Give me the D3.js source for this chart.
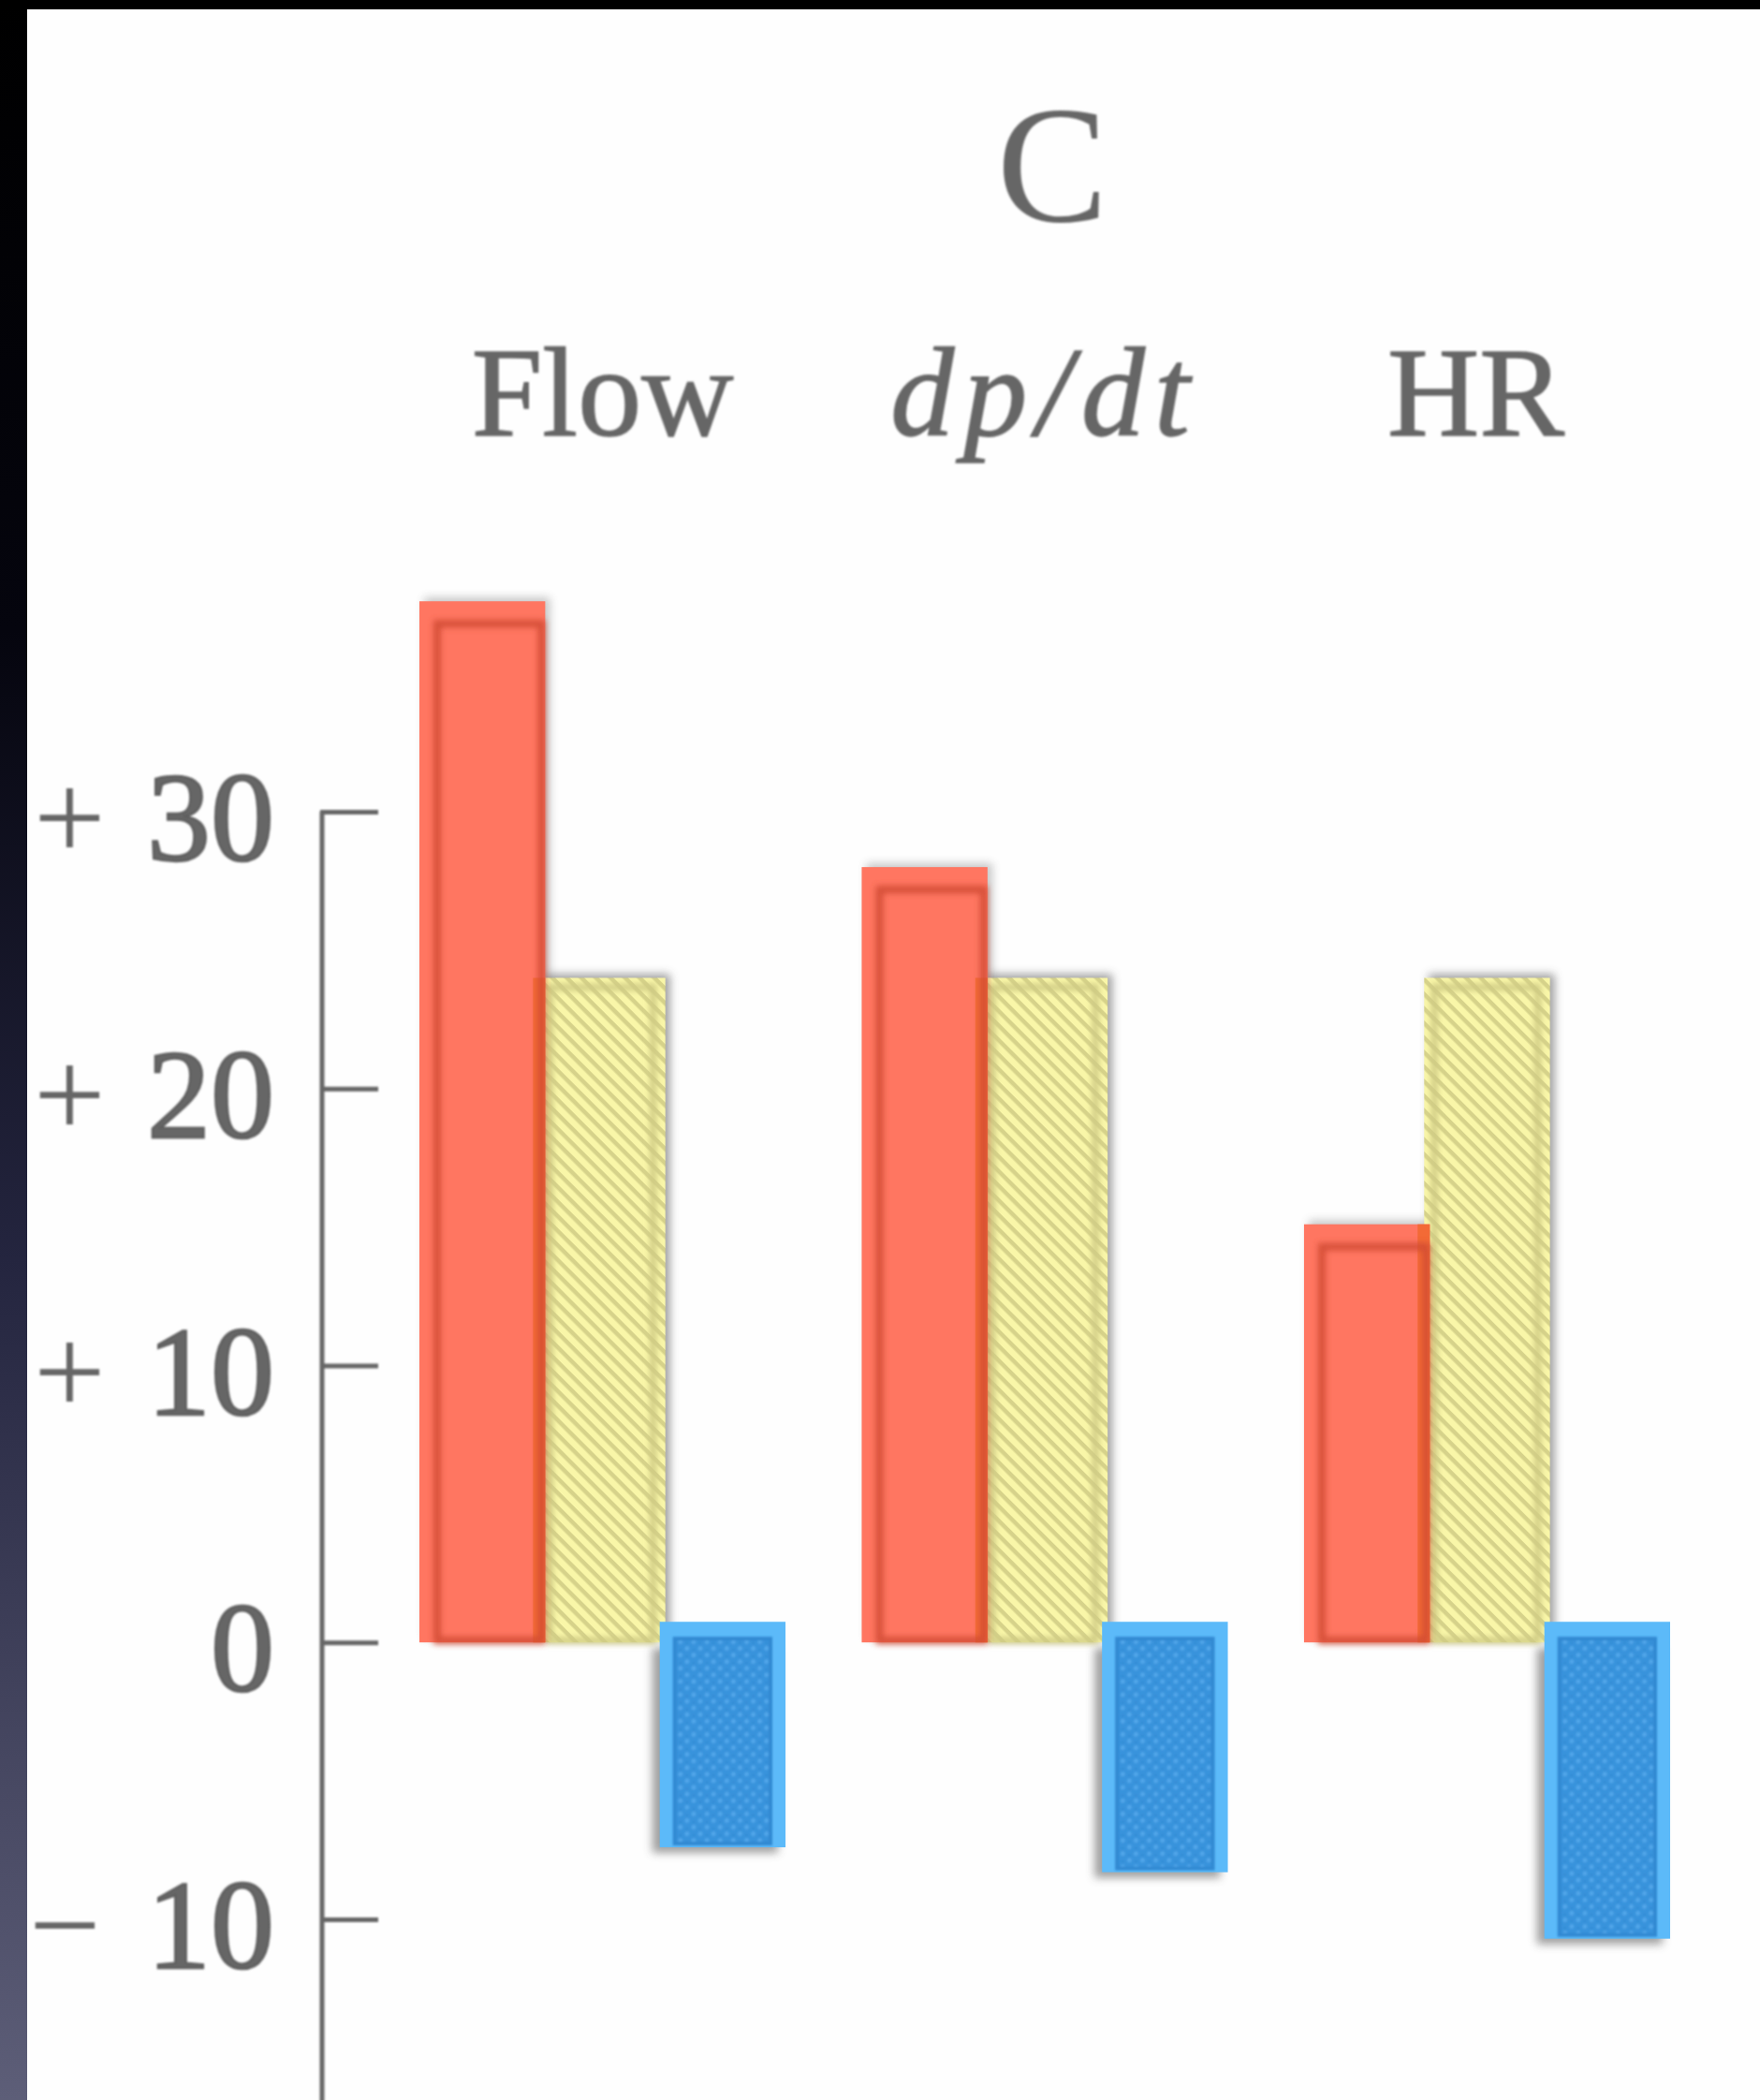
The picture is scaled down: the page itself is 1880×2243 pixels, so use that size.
<!DOCTYPE html>
<html>
<head>
<meta charset="utf-8">
<script src="https://cdn.jsdelivr.net/npm/d3@7"></script>
<style>
body { margin: 0; background: #fff; }
svg { display: block; }
text { font-family: "Liberation Serif", "Times New Roman", serif; fill: #666; }
</style>
</head>
<body>
<svg id="chart"></svg>
<script>
// data
var panelLabel = 'C';
var categories = ['Flow', 'dp/dt', 'HR'];
var seriesNames = ['solid', 'hatched', 'dotted'];
var solidValues = [37.6, 28.0, 15.1];
var hatchedValues = [24.0, 24.0, 24.0];
var dottedValues = [-7.4, -8.3, -10.7];
var tickValues = [30, 20, 10, 0, -10];

var svgDimensions = { width: 1880, height: 2243 };
var axisX = 344;
var colors = {
	solid: '#ff7661', solidEdge: '#cf4833', overlap: '#f36a36',
	hatched: '#f9f6a8', hatchLine: '#d6d28a', hatchedEdge: '#cfcb84',
	dottedRim: '#5cbaf9', dotted: '#3993dc',
	axis: '#666', base: '#b8b8b8', text: '#5f5f5f'
};

var rows = categories.map(function(c, i) {
	return { cat: c, values: [
		{ key: 'solid', v: solidValues[i] },
		{ key: 'hatched', v: hatchedValues[i] },
		{ key: 'dotted', v: dottedValues[i] }
	]};
});

var svg = d3.select('#chart')
	.attr('width', svgDimensions.width)
	.attr('height', svgDimensions.height);

var defs = svg.append('defs');

// frame of the photographed slide
var grad = defs.append('linearGradient').attr('id', 'edgeGrad')
	.attr('x1', 0).attr('y1', 0).attr('x2', 0).attr('y2', 1);
[[0, '#000'], [0.3, '#05050e'], [0.6, '#24253f'], [1, '#5d5e78']].forEach(function(s) {
	grad.append('stop').attr('offset', s[0]).attr('stop-color', s[1]);
});

var hatch = defs.append('pattern').attr('id', 'hatch')
	.attr('patternUnits', 'userSpaceOnUse')
	.attr('width', 11).attr('height', 11)
	.attr('patternTransform', 'rotate(45)');
hatch.append('rect').attr('width', 11).attr('height', 11).attr('fill', colors.hatched);
hatch.append('rect').attr('width', 11).attr('height', 4.5).attr('fill', colors.hatchLine);

var dots = defs.append('pattern').attr('id', 'dots')
	.attr('patternUnits', 'userSpaceOnUse')
	.attr('width', 10).attr('height', 10)
	.attr('patternTransform', 'rotate(45)');
dots.append('rect').attr('width', 10).attr('height', 10).attr('fill', colors.dotted);
dots.append('circle').attr('cx', 5).attr('cy', 5).attr('r', 2.4).attr('fill', '#52a7ea');
dots.append('circle').attr('cx', 0).attr('cy', 0).attr('r', 2.2).attr('fill', '#3088d0');

var soft = defs.append('filter').attr('id', 'soft')
	.attr('x', '-20%').attr('y', '-20%').attr('width', '140%').attr('height', '140%');
soft.append('feGaussianBlur').attr('stdDeviation', 1.1);

var blur = defs.append('filter').attr('id', 'blur')
	.attr('x', '-20%').attr('y', '-20%').attr('width', '140%').attr('height', '140%');
blur.append('feGaussianBlur').attr('stdDeviation', 3);

var shade = defs.append('filter').attr('id', 'shade')
	.attr('x', '-30%').attr('y', '-30%').attr('width', '160%').attr('height', '160%');
shade.append('feGaussianBlur').attr('stdDeviation', 5);

svg.append('rect')
	.attr('width', svgDimensions.width).attr('height', svgDimensions.height)
	.attr('fill', '#fefefe');

////////// scales //////////
var y = d3.scaleLinear().domain([-17, 30]).range([2257, 867]);

var x0 = d3.scaleBand().domain(categories)
	.range([451, 1781])
	.paddingInner(0.185);
var x1 = d3.scaleBand().domain(seriesNames).range([0, x0.bandwidth()]);
var bw = x1.bandwidth();

////////// axis //////////
var yAxis = d3.axisLeft(y)
	.tickValues(tickValues)
	.tickSize(-62)
	.tickSizeOuter(0)
	.tickPadding(51)
	.tickFormat(function(d) { return Math.abs(d); });

var axisG = svg.append('g')
	.attr('transform', 'translate(' + axisX + ',0)')
	.attr('filter', 'url(#soft)')
	.call(yAxis);
axisG.select('.domain').attr('stroke', colors.axis).attr('stroke-width', 5)
	.attr('d', 'M0,' + y(30) + 'V' + y.range()[0]);
axisG.selectAll('.tick line').attr('stroke', colors.axis).attr('stroke-width', 5)
	.attr('transform', 'translate(-2,0)');
axisG.selectAll('.tick text')
	.attr('font-size', 136)
	.attr('font-family', '"Liberation Serif", serif')
	.attr('fill', colors.text)
	.attr('stroke', colors.text).attr('stroke-width', 2.5)
	.attr('dy', '0.38em');
axisG.selectAll('.tick').filter(function(d) { return d !== 0; })
	.append('text')
	.attr('x', function(d) { return d > 0 ? 36 - axisX : 31 - axisX; })
	.attr('dy', '0.38em')
	.attr('font-size', 136)
	.attr('fill', colors.text)
	.attr('text-anchor', 'start')
	.text(function(d) { return d > 0 ? '+' : '\u2212'; });

////////// titles //////////
var titles = svg.append('g').attr('filter', 'url(#soft)');
titles.append('text')
	.attr('x', x0('dp/dt') + x0.bandwidth() / 2 + 8)
	.attr('y', 236)
	.attr('text-anchor', 'middle')
	.attr('font-size', 178)
	.text(panelLabel);

titles.selectAll('text.cat')
	.data(categories)
	.enter()
	.append('text')
	.attr('class', 'cat')
	.attr('x', function(d, i) { return x0(d) + x0.bandwidth() / 2 + (i === 2 ? -12 : 0); })
	.attr('y', 465)
	.attr('text-anchor', 'middle')
	.attr('font-size', 136)
	.attr('stroke', '#666').attr('stroke-width', 1.5)
	.attr('font-style', function(d) { return d === 'dp/dt' ? 'italic' : null; })
	.attr('letter-spacing', function(d) { return d === 'dp/dt' ? 10 : null; })
	.text(function(d) { return d; });

////////// zero line //////////
svg.append('line')
	.attr('x1', x0.range()[0]).attr('x2', x0.range()[1])
	.attr('y1', y(0)).attr('y2', y(0))
	.attr('stroke', colors.base).attr('stroke-width', 4)
	.attr('filter', 'url(#soft)');

////////// bars //////////
var groups = svg.selectAll('g.group')
	.data(rows)
	.enter()
	.append('g')
	.attr('class', 'group')
	.attr('transform', function(d) { return 'translate(' + x0(d.cat) + ',0)'; });

function barTop(d) { return Math.min(y(d.v), y(0)); }
function barHeight(d) { return Math.abs(y(d.v) - y(0)); }

// soft scan shadows of the original bars
groups.each(function(r) {
	var g = d3.select(this);
	r.values.forEach(function(d) {
		var dx = d.key === 'dotted' ? -8 : 5;
		var dy = d.key === 'dotted' ? 6 : -4;
		g.append('rect')
			.attr('x', x1(d.key) - 3 + dx)
			.attr('y', barTop(d) + dy)
			.attr('width', bw + 6)
			.attr('height', barHeight(d))
			.attr('fill', '#444')
			.attr('opacity', d.key === 'solid' ? 0.3 : 0.5)
			.attr('filter', 'url(#shade)');
	});
});

// hatched bars
groups.each(function(r) {
	var d = r.values[1];
	var g = d3.select(this);
	g.append('rect')
		.attr('x', x1(d.key) - 3).attr('y', barTop(d))
		.attr('width', bw + 6).attr('height', barHeight(d))
		.attr('fill', 'url(#hatch)');
	g.append('rect')
		.attr('x', x1(d.key) + 8).attr('y', barTop(d) + 10)
		.attr('width', bw - 18).attr('height', barHeight(d) - 12)
		.attr('fill', 'none')
		.attr('stroke', colors.hatchedEdge).attr('stroke-width', 7)
		.attr('filter', 'url(#blur)');
});

// solid bars
groups.each(function(r) {
	var d = r.values[0];
	var g = d3.select(this);
	g.append('rect')
		.attr('x', x1(d.key) - 3).attr('y', barTop(d))
		.attr('width', bw + 6).attr('height', barHeight(d))
		.attr('fill', colors.solid);
	// where the solid overlay lies on the hatched bar
	var over = Math.min(barTop(d), barTop(r.values[1]));
	g.append('rect')
		.attr('x', x1(d.key) + bw - 10).attr('y', Math.max(barTop(d), barTop(r.values[1])))
		.attr('width', 13).attr('height', y(0) - Math.max(barTop(d), barTop(r.values[1])))
		.attr('fill', colors.overlap);
	g.append('rect')
		.attr('x', x1(d.key) + 16).attr('y', barTop(d) + 24)
		.attr('width', bw - 17).attr('height', barHeight(d) - 26)
		.attr('fill', 'none')
		.attr('stroke', colors.solidEdge).attr('stroke-width', 8)
		.attr('opacity', 0.85)
		.attr('filter', 'url(#blur)');
});

// dotted bars
groups.each(function(r) {
	var d = r.values[2];
	var g = d3.select(this);
	var x = x1(d.key) - 3;
	g.append('rect')
		.attr('x', x).attr('y', barTop(d) - 22)
		.attr('width', bw + 6).attr('height', barHeight(d) + 22)
		.attr('fill', colors.dottedRim);
	g.append('rect')
		.attr('x', x + 16).attr('y', barTop(d) - 4)
		.attr('width', bw + 6 - 32).attr('height', barHeight(d))
		.attr('fill', 'url(#dots)')
		.attr('stroke', '#3089d2').attr('stroke-width', 4)
		.attr('filter', 'url(#soft)');
});

////////// slide frame //////////
svg.append('rect')
	.attr('x', 0).attr('y', 0)
	.attr('width', 29).attr('height', svgDimensions.height)
	.attr('fill', 'url(#edgeGrad)');
svg.append('rect')
	.attr('x', 0).attr('y', 0)
	.attr('width', svgDimensions.width).attr('height', 10)
	.attr('fill', '#000');
</script>
</body>
</html>
